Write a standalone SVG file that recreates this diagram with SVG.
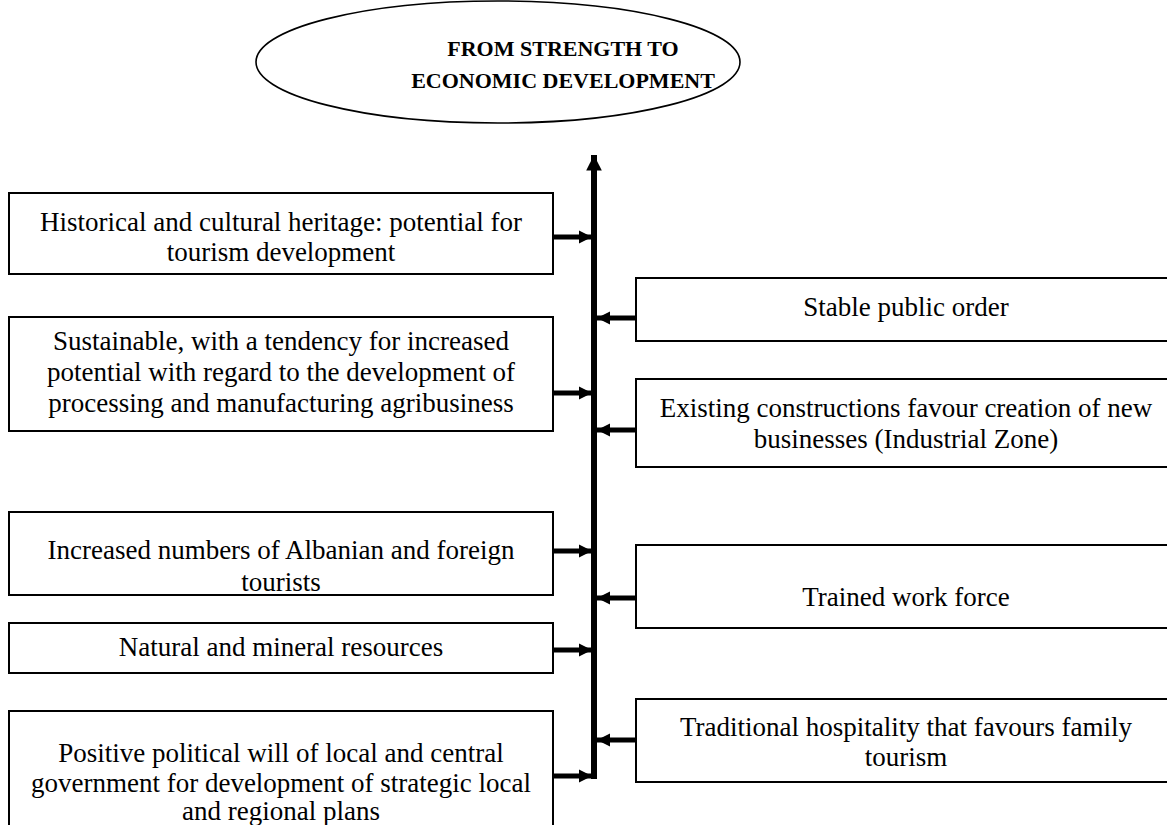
<svg xmlns="http://www.w3.org/2000/svg" width="1167" height="825" viewBox="0 0 1167 825">
<defs>
<style>
.box{fill:#fff;stroke:#000;stroke-width:2}
.t{font-family:"Liberation Serif","Times New Roman",serif;font-size:27px;fill:#000;text-anchor:middle}
.title{font-family:"Liberation Serif","Times New Roman",serif;font-size:22px;font-weight:bold;fill:#000;text-anchor:middle}
.c{stroke:#000;stroke-width:5;fill:none}
</style>
<marker id="ah" viewBox="0 0 10 10" refX="10" refY="5" markerWidth="2.6" markerHeight="3" orient="auto" markerUnits="strokeWidth">
<path d="M0,0 L10,5 L0,10 z" fill="#000"/>
</marker>
</defs>
<rect width="1167" height="825" fill="#fff"/>
<g id="title">
<ellipse cx="498" cy="62" rx="242" ry="61" fill="#fff" stroke="#000" stroke-width="1.6"/>
<text class="title" x="563" y="56">FROM STRENGTH TO</text>
<text class="title" x="563" y="88">ECONOMIC DEVELOPMENT</text>
</g>
<g id="connectors">
<line class="c" x1="594" y1="779" x2="594" y2="155" marker-end="url(#ah)" style="stroke-width:6"/>
<line class="c" x1="553" y1="237" x2="592" y2="237" marker-end="url(#ah)"/>
<line class="c" x1="553" y1="393" x2="592" y2="393" marker-end="url(#ah)"/>
<line class="c" x1="553" y1="551" x2="592" y2="551" marker-end="url(#ah)"/>
<line class="c" x1="553" y1="650" x2="592" y2="650" marker-end="url(#ah)"/>
<line class="c" x1="553" y1="776" x2="592" y2="776" marker-end="url(#ah)"/>
<line class="c" x1="636" y1="318" x2="597" y2="318" marker-end="url(#ah)"/>
<line class="c" x1="636" y1="430" x2="597" y2="430" marker-end="url(#ah)"/>
<line class="c" x1="636" y1="598" x2="597" y2="598" marker-end="url(#ah)"/>
<line class="c" x1="636" y1="740" x2="597" y2="740" marker-end="url(#ah)"/>
</g>
<g id="l1">
<rect class="box" x="9" y="193" width="544" height="81"/>
<text class="t" x="281" y="231">Historical and cultural heritage: potential for</text>
<text class="t" x="281" y="261">tourism development</text>
</g>
<g id="l2">
<rect class="box" x="9" y="317" width="544" height="114"/>
<text class="t" x="281" y="350">Sustainable, with a tendency for increased</text>
<text class="t" x="281" y="381">potential with regard to the development of</text>
<text class="t" x="281" y="412">processing and manufacturing agribusiness</text>
</g>
<g id="l3">
<rect class="box" x="9" y="512" width="544" height="83"/>
<text class="t" x="281" y="559">Increased numbers of Albanian and foreign</text>
<text class="t" x="281" y="591">tourists</text>
</g>
<g id="l4">
<rect class="box" x="9" y="623" width="544" height="50"/>
<text class="t" x="281" y="656">Natural and mineral resources</text>
</g>
<g id="l5">
<rect class="box" x="9" y="711" width="544" height="130"/>
<text class="t" x="281" y="762">Positive political will of local and central</text>
<text class="t" x="281" y="792">government for development of strategic local</text>
<text class="t" x="281" y="820">and regional plans</text>
</g>
<g id="r1">
<rect class="box" x="636" y="278" width="542" height="63"/>
<text class="t" x="906" y="316">Stable public order</text>
</g>
<g id="r2">
<rect class="box" x="636" y="379" width="542" height="88"/>
<text class="t" x="906" y="417">Existing constructions favour creation of new</text>
<text class="t" x="906" y="448">businesses (Industrial Zone)</text>
</g>
<g id="r3">
<rect class="box" x="636" y="545" width="542" height="83"/>
<text class="t" x="906" y="606">Trained work force</text>
</g>
<g id="r4">
<rect class="box" x="636" y="699" width="542" height="83"/>
<text class="t" x="906" y="736">Traditional hospitality that favours family</text>
<text class="t" x="906" y="766">tourism</text>
</g>
</svg>
